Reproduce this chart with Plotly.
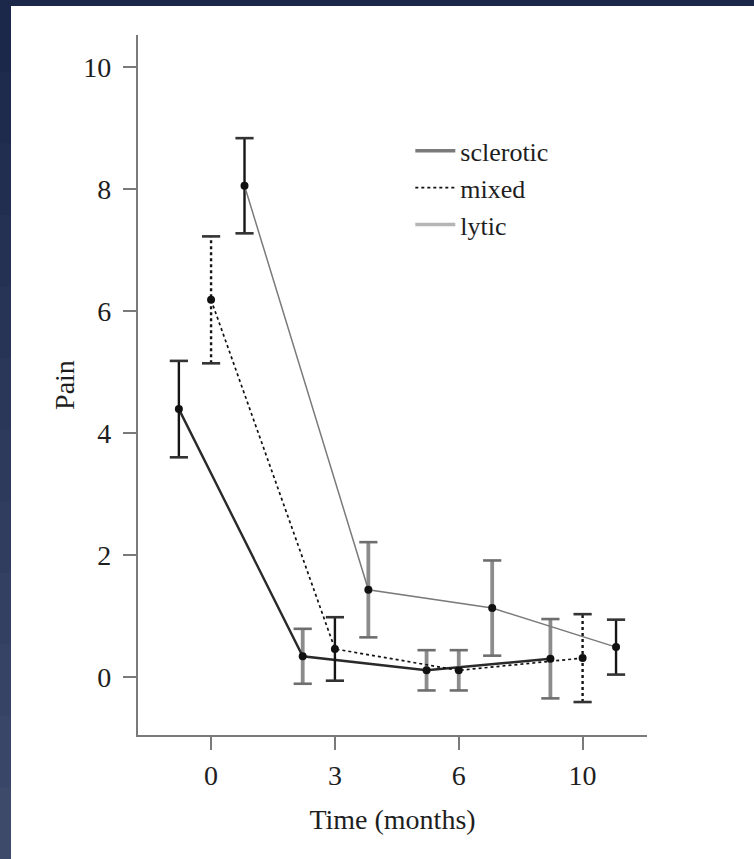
import plotly.graph_objects as go

# ---- data ----
time_labels = ["0", "3", "6", "10"]
series_names = ["sclerotic", "mixed", "lytic"]
sclerotic_mean = [4.39, 0.34, 0.11, 0.30]
sclerotic_err = [0.79, 0.45, 0.33, 0.65]
mixed_mean = [6.18, 0.46, 0.11, 0.31]
mixed_err = [1.04, 0.52, 0.33, 0.72]
lytic_mean = [8.05, 1.43, 1.13, 0.49]
lytic_err = [0.78, 0.78, 0.78, 0.45]

# ---- styles ----
dodge = {"sclerotic": -0.26, "mixed": 0.0, "lytic": 0.27}
line_style = {
    "sclerotic": dict(color="#2a2a2a", width=2.4, dash="solid"),
    "mixed": dict(color="#111111", width=1.7, dash="dot"),
    "lytic": dict(color="#7a7a7a", width=1.5, dash="solid"),
}
legend_style = {
    "sclerotic": dict(color="#7a7a7a", width=3.5, dash="solid"),
    "mixed": dict(color="#111111", width=1.7, dash="dot"),
    "lytic": dict(color="#b5b5b5", width=3.5, dash="solid"),
}
bar_kind = {
    "sclerotic": ["black", "gray", "gray", "gray"],
    "mixed": ["dot", "black", "gray", "dot"],
    "lytic": ["black", "gray", "gray", "black"],
}
bar_style = {
    "black": dict(color="#151515", width=2.4, dash="solid"),
    "gray": dict(color="#8c8c8c", width=3.8, dash="solid"),
    "dot": dict(color="#151515", width=2.4, dash="dot"),
}

data = {
    "sclerotic": (sclerotic_mean, sclerotic_err),
    "mixed": (mixed_mean, mixed_err),
    "lytic": (lytic_mean, lytic_err),
}

FONT = "Liberation Serif"
FS = 28
TXT = "#1e1e1e"
fig = go.Figure()

for name in series_names:
    means, errs = data[name]
    xs = [i + dodge[name] for i in range(len(time_labels))]
    for i, (x, m, e) in enumerate(zip(xs, means, errs)):
        st = bar_style[bar_kind[name][i]]
        fig.add_trace(go.Scatter(
            x=[x, x], y=[m - e, m + e], mode="lines+markers",
            line=dict(color=st["color"], width=st["width"], dash=st["dash"]),
            marker=dict(symbol="line-ew", size=13,
                        line=dict(color="#333333" if bar_kind[name][i] != "gray" else "#6e6e6e",
                                  width=2.6)),
            showlegend=False, hoverinfo="skip"))
    fig.add_trace(go.Scatter(
        x=xs, y=means, mode="lines+markers", name=name,
        line=line_style[name],
        marker=dict(color="#111111", size=8),
        showlegend=False))

for name in series_names:
    fig.add_trace(go.Scatter(x=[None], y=[None], mode="lines", name=name,
                             line=legend_style[name], showlegend=True))

# background navy frame strips (left and top)
shapes = []
W, H = 754, 859
ml, mr, mt, mb = 138, 107, 35, 124
pw, ph = W - ml - mr, H - mt - mb
def px_x(p):
    return (p - ml) / pw
def px_y(p):
    return 1 - (p - mt) / ph
nseg = 12
top_c = (27, 40, 74)
bot_c = (62, 74, 106)
for k in range(nseg):
    t = k / (nseg - 1)
    c = tuple(int(top_c[j] + (bot_c[j] - top_c[j]) * t) for j in range(3))
    y0 = H * k / nseg
    y1 = H * (k + 1) / nseg + 1
    shapes.append(dict(type="rect", xref="paper", yref="paper",
                       x0=px_x(0), x1=px_x(11), y0=px_y(y0), y1=px_y(y1),
                       fillcolor="rgb(%d,%d,%d)" % c, line=dict(width=0), layer="below"))
shapes.append(dict(type="rect", xref="paper", yref="paper",
                   x0=px_x(0), x1=px_x(W), y0=px_y(0), y1=px_y(6),
                   fillcolor="rgb(27,40,74)", line=dict(width=0), layer="below"))

axis_common = dict(showline=True, linecolor="#7a7a7a", linewidth=2.2,
                   ticks="outside", tickcolor="#7a7a7a", tickwidth=2.2, ticklen=13,
                   showgrid=False, zeroline=False,
                   tickfont=dict(family=FONT, size=FS, color=TXT))

fig.update_layout(
    width=W, height=H,
    margin=dict(l=ml, r=mr, t=mt, b=mb),
    paper_bgcolor="white", plot_bgcolor="white",
    shapes=shapes,
    font=dict(family=FONT, color=TXT),
    xaxis=dict(range=[-0.59, 3.52], tickvals=list(range(len(time_labels))),
               ticktext=time_labels, ticklabelstandoff=1,
               title=dict(text="Time (months)", font=dict(family=FONT, size=FS, color=TXT),
                          standoff=20),
               **axis_common),
    yaxis=dict(range=[-0.95, 10.52], tickvals=[0, 2, 4, 6, 8, 10],
               ticklabelstandoff=6,
               title=dict(text="Pain", font=dict(family=FONT, size=FS, color=TXT),
                          standoff=0),
               **axis_common),
    legend=dict(x=0.535, y=0.868, xanchor="left", yanchor="top",
                bgcolor="rgba(0,0,0,0)", font=dict(family=FONT, size=26, color=TXT),
                tracegroupgap=0, itemwidth=40),
)

fig.write_html("out.html")
